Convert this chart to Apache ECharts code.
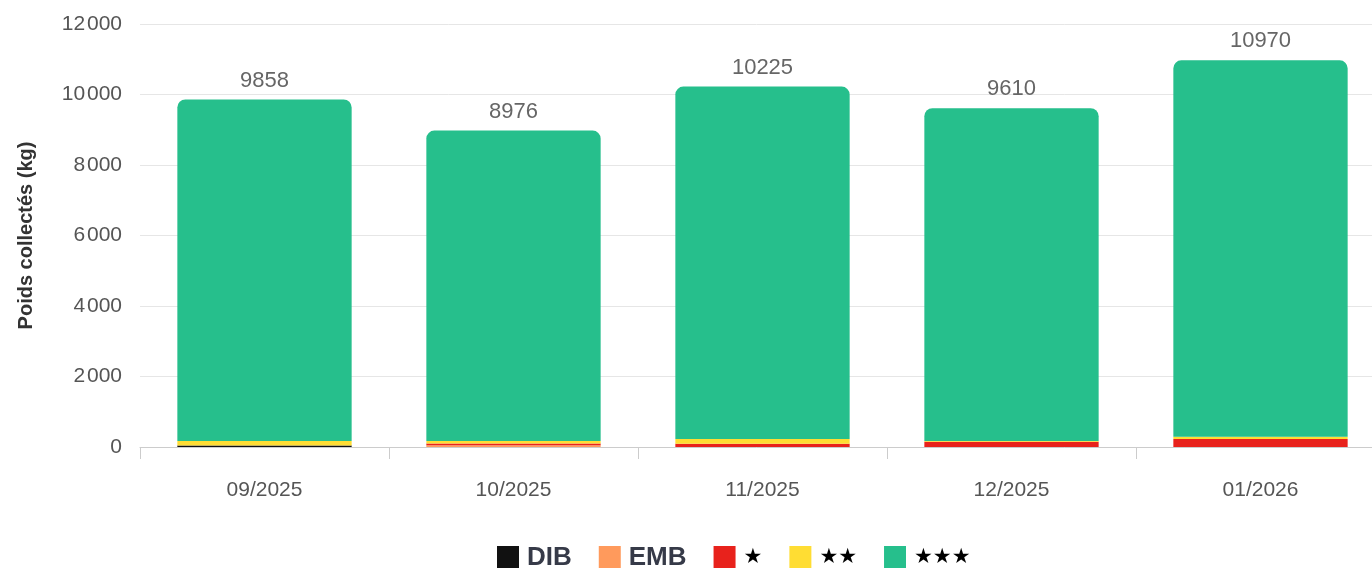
<!DOCTYPE html>
<html>
<head>
    <meta charset="utf-8">
    <title>Poids collectés</title>
    <script src="https://cdn.jsdelivr.net/npm/echarts@6/dist/echarts.min.js"></script>
    <style>
        html, body { margin: 0; padding: 0; background: #fff; }
        #main { width: 1372px; height: 568px; }
    </style>
</head>
<body>
    <div id="main"></div>
<script type="text/javascript">
    // données
    var mois = ['09/2025', '10/2025', '11/2025', '12/2025', '01/2026'];
    var dib = [45, 0, 0, 0, 0];
    var emb = [0, 50, 0, 0, 0];
    var etoile1 = [0, 50, 90, 150, 230];
    var etoile2 = [125, 70, 140, 20, 60];
    var etoile3 = [9688, 8806, 9995, 9440, 10680];
    var totaux = [9858, 8976, 10225, 9610, 10970];

    var chart = echarts.init(document.getElementById('main'));

    function fmt(v) {
        return String(v).replace(/\B(?=(\d{3})+(?!\d))/g, '\u200A');
    }

    function serie(nom, data, couleur, rayon) {
        return {
            name: nom,
            type: 'bar',
            stack: 'total',
            barWidth: '70%',
            data: data,
            itemStyle: { color: couleur, borderRadius: rayon || 0 },
            emphasis: { disabled: true }
        };
    }

    var derniere = serie('★★★', etoile3, '#26BF8C', [8, 8, 0, 0]);
    derniere.label = {
        show: true,
        position: 'top',
        distance: 8,
        color: '#666',
        fontSize: 22,
        fontFamily: 'Liberation Sans',
        formatter: function (p) { return totaux[p.dataIndex]; }
    };

    var option = {
        animation: false,
        textStyle: { fontFamily: 'Liberation Sans' },
        grid: { left: 140, width: 1245, top: 24, bottom: 121, containLabel: false, outerBoundsMode: 'none' },
        legend: {
            top: 540,
            left: 492,
            itemWidth: 22,
            itemHeight: 24,
            itemGap: 27,
            icon: 'rect',
            formatter: function (n) {
                return n.charAt(0) === '★' ? '{s|' + n + '}' : '{t|' + n + '}';
            },
            textStyle: {
                padding: [0, 0, 0, 3],
                rich: {
                    t: { fontSize: 26, fontWeight: 'bold', color: '#363a48', fontFamily: 'Liberation Sans' },
                    s: { fontSize: 21, fontWeight: 'bold', color: '#000', fontFamily: 'DejaVu Sans' }
                }
            },
            data: ['DIB', 'EMB', '★', '★★', '★★★']
        },
        xAxis: {
            type: 'category',
            data: mois,
            axisLine: { lineStyle: { color: '#ccc' } },
            axisTick: { show: true, length: 12, lineStyle: { color: '#ccc' } },
            axisLabel: { color: '#555', fontSize: 21, margin: 33 }
        },
        yAxis: {
            type: 'value',
            min: 0,
            max: 12000,
            interval: 2000,
            name: 'Poids collectés (kg)',
            nameLocation: 'middle',
            nameGap: 104,
            nameTextStyle: { fontSize: 20, fontWeight: 'bold', color: '#333' },
            axisLabel: { color: '#555', fontSize: 21, margin: 18, formatter: fmt },
            splitLine: { lineStyle: { color: '#e6e6e6' } }
        },
        series: [
            serie('DIB', dib, '#111111'),
            serie('EMB', emb, '#FF9A5C'),
            serie('★', etoile1, '#E8221C'),
            serie('★★', etoile2, '#FFDD33'),
            derniere
        ]
    };

    chart.setOption(option);
</script>
</body>
</html>
